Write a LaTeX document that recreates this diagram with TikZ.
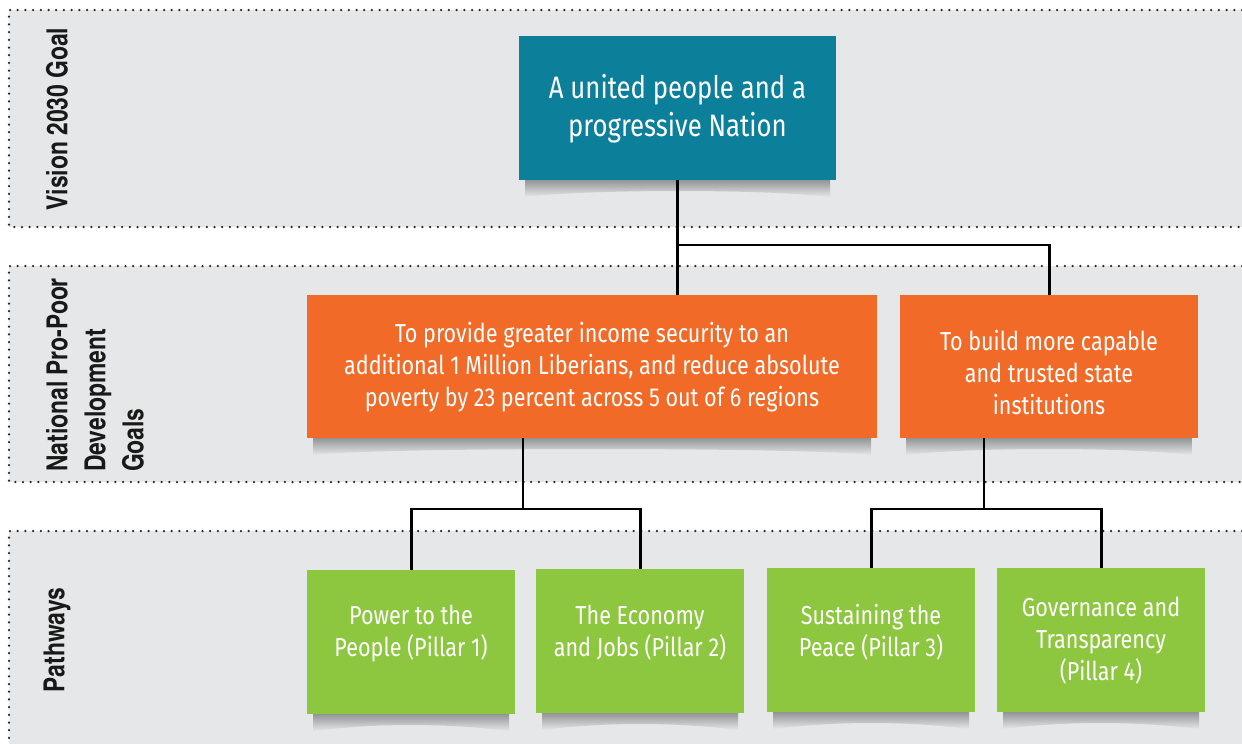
\documentclass[tikz,border=0pt]{standalone}
\usepackage{fontspec}
\newfontfamily\boxfont{Fira Sans}[FakeStretch=0.83]
\newfontfamily\lblfont{texgyreheroscn-bold.otf}[FakeStretch=0.96]
\definecolor{bandgray}{HTML}{E6E7E8}
\definecolor{tealbox}{HTML}{0C7F9B}
\definecolor{orangebox}{HTML}{F26A27}
\definecolor{greenbox}{HTML}{8DC63F}
\definecolor{shadowgray}{HTML}{939496}
\tikzset{
  band/.style={fill=bandgray, draw=none},
  dotline/.style={draw=black!85, line width=2.5pt, line cap=round, dash pattern=on 0pt off 7.7pt},
  bandlabel/.style={font=\lblfont\fontsize{29}{38}\selectfont, text=black!90, rotate=90, inner sep=0pt, align=left},
  boxbase/.style={anchor=north west, inner sep=0pt},
  tealbox/.style={boxbase, fill=tealbox},
  orangebox/.style={boxbase, fill=orangebox},
  greenbox/.style={boxbase, fill=greenbox},
  bigtext/.style={text=white, align=center, inner sep=0pt, font=\boxfont\fontsize{31}{38}\selectfont},
  boxtext/.style={text=white, align=center, inner sep=0pt, font=\boxfont\fontsize{26}{32}\selectfont},
  link/.style={draw=black, line width=2.7pt}
}
\begin{document}
\begin{tikzpicture}[x=1pt, y=-1pt]
\useasboundingbox (0,0) rectangle (1242,744);
\fill[white] (0,0) rectangle (1242,744);
% bands
\fill[band] (9,10) rectangle (1242,227);
\fill[band] (9,266) rectangle (1242,482);
\fill[band] (9,531) rectangle (1242,744);
\draw[dotline] (1242,10) -- (9,10) -- (9,227) -- (1242,227);
\draw[dotline] (1242,266) -- (9,266) -- (9,482) -- (1242,482);
\draw[dotline] (1242,531) -- (9,531) -- (9,744);
% band labels
\node[bandlabel, anchor=center] (lvision) at (57,119) {Vision 2030 Goal};
\node[bandlabel, anchor=west] (lgoals) at (95,472) {National Pro-Poor\\Development\\Goals};
\node[bandlabel, anchor=center] (lpath) at (57,640) {Pathways};
% shadows
\foreach \a/\b/\c in {519/836/180, 307/877/438, 900/1198/438, 307/515/714, 536/744/713, 767/975/712, 997/1205/712}{
  \shade[top color=shadowgray, bottom color=bandgray]
    (\a+6,\c) -- (\b-6,\c) -- (\b-6,\c+17) .. controls (\b-70,\c+9) and (\a+70,\c+9) .. (\a+6,\c+17) -- cycle;
}
% boxes
\node[tealbox, minimum width=317pt, minimum height=144pt] (vision) at (519,36) {};
\node[orangebox, minimum width=570pt, minimum height=143pt] (goal1) at (307,295) {};
\node[orangebox, minimum width=298pt, minimum height=143pt] (goal2) at (900,295) {};
\node[greenbox, minimum width=208pt, minimum height=144pt] (p1) at (307,570) {};
\node[greenbox, minimum width=208pt, minimum height=144pt] (p2) at (536,569) {};
\node[greenbox, minimum width=208pt, minimum height=144pt] (p3) at (767,568) {};
\node[greenbox, minimum width=208pt, minimum height=144pt] (p4) at (997,568) {};
% box texts
\node[bigtext] (tvision) at (677.5,109) {A united people and a\\progressive Nation};
\node[boxtext] (tgoal1) at (592,367) {To provide greater income security to an\\additional 1 Million Liberians, and reduce absolute\\poverty by 23 percent across 5 out of 6 regions};
\node[boxtext] (tgoal2) at (1049,373) {To build more capable\\and trusted state\\institutions};
\node[boxtext] (tp1) at (411,634) {Power to the\\People (Pillar 1)};
\node[boxtext] (tp2) at (640,633) {The Economy\\and Jobs (Pillar 2)};
\node[boxtext] (tp3) at (871,632) {Sustaining the\\Peace (Pillar 3)};
\node[boxtext] (tp4) at (1101,641) {Governance and\\Transparency\\(Pillar 4)};
% connectors
\coordinate (barA) at (678,245);
\coordinate (barB) at (523,509);
\coordinate (barC) at (984,509);
\draw[link] (vision.south) -- (vision.south |- goal1.north);
\draw[link] (barA) -| (goal2.north);
\draw[link] (goal1.south -| barB) -- (barB);
\draw[link] (p1.north) |- (barB) -| (p2.north);
\draw[link] (goal2.south -| barC) -- (barC);
\draw[link] (p3.north) |- (barC) -| (p4.north);
\end{tikzpicture}
\end{document}
